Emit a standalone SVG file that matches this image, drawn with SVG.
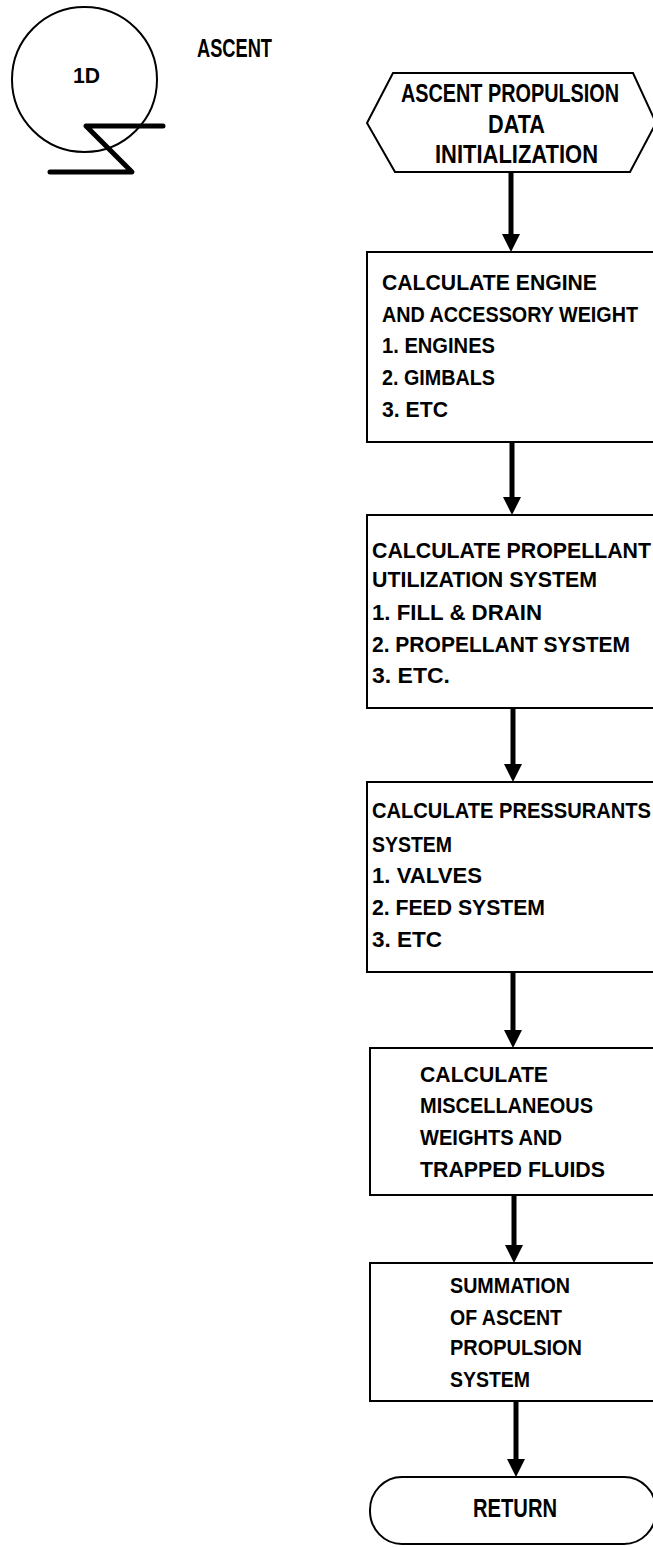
<svg xmlns="http://www.w3.org/2000/svg" width="653" height="1547" viewBox="0 0 653 1547">
<style>
.t{font-family:"Liberation Sans",Arial,sans-serif;font-weight:bold;font-size:22px;fill:#000}
.big{font-size:25px}
.sh{fill:#fff;stroke:#000;stroke-width:2}
.conn{stroke:#000;stroke-width:5;fill:none}
</style>
<defs>
<marker id="ah" viewBox="0 0 18 18" markerWidth="18" markerHeight="18" markerUnits="userSpaceOnUse" refX="8" refY="9" orient="auto">
<path d="M0,0 L18,9 L0,18 z" fill="#000"/>
</marker>
</defs>
<rect width="653" height="1547" fill="#fff"/>
<g id="connector-ref">
<circle cx="84.5" cy="79.5" r="72.5" fill="none" stroke="#000" stroke-width="2"/>
<polyline points="163,126 86,126 132,172 50,172" fill="none" stroke="#000" stroke-width="5" stroke-linecap="round" stroke-linejoin="round"/>
<text class="t" x="73" y="83" font-size="21" textLength="27" lengthAdjust="spacingAndGlyphs">1D</text>
</g>
<g id="title"><text class="t big" x="197" y="57" textLength="75" lengthAdjust="spacingAndGlyphs">ASCENT</text></g>
<g id="connectors">
<line class="conn" x1="511" y1="172" x2="511" y2="242" marker-end="url(#ah)"/>
<line class="conn" x1="512" y1="442" x2="512" y2="505" marker-end="url(#ah)"/>
<line class="conn" x1="513" y1="708" x2="513" y2="772" marker-end="url(#ah)"/>
<line class="conn" x1="513" y1="972" x2="513" y2="1038" marker-end="url(#ah)"/>
<line class="conn" x1="514" y1="1195" x2="514" y2="1253" marker-end="url(#ah)"/>
<line class="conn" x1="516" y1="1401" x2="516" y2="1467" marker-end="url(#ah)"/>
</g>
<g id="init">
<polygon class="sh" points="393,73 633,73 656,123 630,172 395,172 367,123"/>
<text class="t big" x="401" y="102" textLength="218" lengthAdjust="spacingAndGlyphs">ASCENT PROPULSION</text>
<text class="t big" x="488" y="133" textLength="57" lengthAdjust="spacingAndGlyphs">DATA</text>
<text class="t big" x="435" y="163" textLength="163" lengthAdjust="spacingAndGlyphs">INITIALIZATION</text>
</g>
<g id="engine">
<path class="sh" d="M654,252 H367 V442 H654"/>
<text class="t" x="382" y="290" textLength="215" lengthAdjust="spacingAndGlyphs">CALCULATE ENGINE</text>
<text class="t" x="382" y="322" textLength="256" lengthAdjust="spacingAndGlyphs">AND ACCESSORY WEIGHT</text>
<text class="t" x="382" y="353" textLength="113" lengthAdjust="spacingAndGlyphs">1. ENGINES</text>
<text class="t" x="382" y="385" textLength="113" lengthAdjust="spacingAndGlyphs">2. GIMBALS</text>
<text class="t" x="382" y="417" textLength="66" lengthAdjust="spacingAndGlyphs">3. ETC</text>
</g>
<g id="propellant">
<path class="sh" d="M654,515 H367 V708 H654"/>
<text class="t" x="372" y="558" textLength="279" lengthAdjust="spacingAndGlyphs">CALCULATE PROPELLANT</text>
<text class="t" x="372" y="587" textLength="225" lengthAdjust="spacingAndGlyphs">UTILIZATION SYSTEM</text>
<text class="t" x="372" y="620" textLength="170" lengthAdjust="spacingAndGlyphs">1. FILL &amp; DRAIN</text>
<text class="t" x="372" y="652" textLength="258" lengthAdjust="spacingAndGlyphs">2. PROPELLANT SYSTEM</text>
<text class="t" x="372" y="683" textLength="78" lengthAdjust="spacingAndGlyphs">3. ETC.</text>
</g>
<g id="pressurants">
<path class="sh" d="M654,782 H367 V972 H654"/>
<text class="t" x="372" y="818" textLength="279" lengthAdjust="spacingAndGlyphs">CALCULATE PRESSURANTS</text>
<text class="t" x="372" y="852" textLength="80" lengthAdjust="spacingAndGlyphs">SYSTEM</text>
<text class="t" x="372" y="883" textLength="110" lengthAdjust="spacingAndGlyphs">1. VALVES</text>
<text class="t" x="372" y="915" textLength="173" lengthAdjust="spacingAndGlyphs">2. FEED SYSTEM</text>
<text class="t" x="372" y="947" textLength="70" lengthAdjust="spacingAndGlyphs">3. ETC</text>
</g>
<g id="misc">
<path class="sh" d="M654,1048 H370 V1195 H654"/>
<text class="t" x="420" y="1082" textLength="128" lengthAdjust="spacingAndGlyphs">CALCULATE</text>
<text class="t" x="420" y="1113" textLength="173" lengthAdjust="spacingAndGlyphs">MISCELLANEOUS</text>
<text class="t" x="420" y="1145" textLength="142" lengthAdjust="spacingAndGlyphs">WEIGHTS AND</text>
<text class="t" x="420" y="1177" textLength="185" lengthAdjust="spacingAndGlyphs">TRAPPED FLUIDS</text>
</g>
<g id="summation">
<path class="sh" d="M654,1263 H370 V1401 H654"/>
<text class="t" x="450" y="1293" textLength="120" lengthAdjust="spacingAndGlyphs">SUMMATION</text>
<text class="t" x="450" y="1325" textLength="112" lengthAdjust="spacingAndGlyphs">OF ASCENT</text>
<text class="t" x="450" y="1355" textLength="132" lengthAdjust="spacingAndGlyphs">PROPULSION</text>
<text class="t" x="450" y="1387" textLength="80" lengthAdjust="spacingAndGlyphs">SYSTEM</text>
</g>
<g id="return">
<rect class="sh" x="370" y="1477" width="286" height="67" rx="32" ry="33"/>
<text class="t big" x="473" y="1517" textLength="84" lengthAdjust="spacingAndGlyphs">RETURN</text>
</g>
</svg>
